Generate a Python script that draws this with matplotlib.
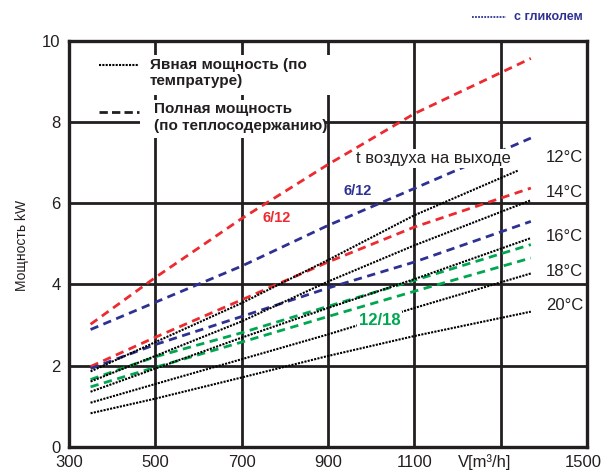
import matplotlib
matplotlib.use("Agg")
import matplotlib.pyplot as plt
from matplotlib.patches import Rectangle

plt.rcParams["font.family"] = ["Liberation Sans", "DejaVu Sans"]

# air flow points, m3/h
flow = [350, 500, 700, 900, 1100, 1370]
flow_12 = [350, 500, 700, 900, 1100, 1340]

# sensible capacity (dotted black), outlet air temperature
sens_12 = [1.86, 2.58, 3.54, 4.60, 5.70, 6.80]
sens_14 = [1.61, 2.24, 3.09, 4.07, 4.96, 6.07]
sens_16 = [1.36, 1.93, 2.69, 3.42, 4.13, 5.14]
sens_18 = [1.09, 1.55, 2.16, 2.77, 3.42, 4.27]
sens_20 = [0.83, 1.19, 1.71, 2.24, 2.73, 3.33]

# total capacity (dashed)
red_hi = [3.02, 4.17, 5.62, 6.95, 8.20, 9.56]
blue_hi = [2.89, 3.56, 4.45, 5.45, 6.36, 7.60]
red_lo = [1.98, 2.70, 3.62, 4.55, 5.41, 6.37]
blue_lo = [1.93, 2.52, 3.21, 3.91, 4.55, 5.55]
green_hi = [1.66, 2.22, 2.81, 3.46, 4.10, 4.98]
green_lo = [1.48, 1.96, 2.58, 3.21, 3.83, 4.65]

temp_labels = ["12°C", "14°C", "16°C", "18°C", "20°C"]
temp_label_y = [7.13, 6.27, 5.19, 4.33, 3.47]

x_ticks = [300, 500, 700, 900, 1100, 1300, 1500]
x_ticklabels = ["300", "500", "700", "900", "1100", "", ""]
y_ticks = [0, 2, 4, 6, 8, 10]

RED = "#ed2a2f"
BLUE = "#2e3192"
GREEN = "#00a650"
DARK = "#231f20"

fig = plt.figure(figsize=(6.03, 4.70), dpi=100)
ax = fig.add_axes([0.1144, 0.0489, 0.859, 0.8649])
ax.set_xlim(300, 1500)
ax.set_ylim(0, 10)

ax.set_xticks(x_ticks)
ax.set_xticklabels(x_ticklabels)
ax.set_yticks(y_ticks)
ax.tick_params(length=0, labelsize=12, colors=DARK, pad=6)
ax.grid(True, color=DARK, linewidth=2.0, zorder=0)
ax.set_axisbelow(True)
for sp in ax.spines.values():
    sp.set_linewidth(2.4)
    sp.set_color(DARK)

dash = dict(linestyle=(0, (3, 2)), linewidth=2.0, zorder=3)
ax.plot(flow, red_hi, color=RED, **dash)
ax.plot(flow, blue_hi, color=BLUE, **dash)
ax.plot(flow, red_lo, color=RED, **dash)
ax.plot(flow, blue_lo, color=BLUE, **dash)
ax.plot(flow, green_hi, color=GREEN, **dash)
ax.plot(flow, green_lo, color=GREEN, **dash)

dot = dict(color="black", linestyle=(0, (1, 0.6)), linewidth=1.5, zorder=4)
ax.plot(flow_12, sens_12, **dot)
for s in [sens_14, sens_16, sens_18, sens_20]:
    ax.plot(flow, s, **dot)

white = dict(facecolor="white", edgecolor="none", pad=1.5)
for lab, yy in zip(temp_labels, temp_label_y):
    ax.text(1405, yy, lab, fontsize=12, color=DARK, va="center", ha="left",
            zorder=6, bbox=white if lab == "14°C" else None)

ax.text(966, 7.1, "t воздуха на выходе", fontsize=12, color=DARK,
        va="center", ha="left", zorder=6, bbox=white)

ax.text(782, 5.63, "6/12", fontsize=10.5, color=RED, fontweight="bold",
        va="center", ha="center", zorder=6)
ax.text(970, 6.30, "6/12", fontsize=10.5, color=BLUE, fontweight="bold",
        va="center", ha="center", zorder=6)
ax.text(1019, 3.12, "12/18", fontsize=12, color=GREEN, fontweight="bold",
        va="center", ha="center", zorder=6, bbox=white)

ax.text(1263, -0.38, "V[m³/h]", fontsize=12, color=DARK, va="center",
        ha="center", clip_on=False)
ax.text(1492, -0.38, "1500", fontsize=12, color=DARK, va="center",
        ha="center", clip_on=False)

# legend in the upper left, white boxes hide the grid
ax.add_patch(Rectangle((475, 8.66), 442, 0.98, facecolor="white",
                       edgecolor="none", zorder=5))
ax.add_patch(Rectangle((464, 7.60), 430, 0.94, facecolor="white",
                       edgecolor="none", zorder=5))
ax.text(0.156, 0.957, "Явная мощность (по\nтемпратуре)", transform=ax.transAxes,
        fontsize=11, fontweight="bold", color=DARK, va="top", ha="left",
        linespacing=1.2, zorder=6)
ax.plot([0.057, 0.135], [0.94, 0.94], transform=ax.transAxes, color="black",
        linestyle=(0, (1, 0.6)), linewidth=1.5, zorder=7)
ax.text(0.164, 0.849, "Полная мощность\n(по теплосодержанию)", transform=ax.transAxes,
        fontsize=11, fontweight="bold", color=DARK, va="top", ha="left",
        linespacing=1.25, zorder=6)
ax.plot([0.057, 0.135], [0.824, 0.824], transform=ax.transAxes, color=DARK,
        linestyle=(0, (3, 1.5)), linewidth=2.0, zorder=7)

# glycol legend above the plot
fig.text(514 / 603, 1 - 17 / 470, "с гликолем", fontsize=9, fontweight="bold",
         color=BLUE, va="center", ha="left")
fig.add_artist(plt.Line2D([472 / 603, 506 / 603], [1 - 17 / 470, 1 - 17 / 470],
                          color=BLUE, linestyle=(0, (1, 0.7)), linewidth=1.3))

fig.text(22 / 603, 1 - 245 / 470, "Мощность kW", fontsize=10, color=DARK,
         rotation=90, va="center", ha="center")

fig.savefig("out.png", dpi=100)
